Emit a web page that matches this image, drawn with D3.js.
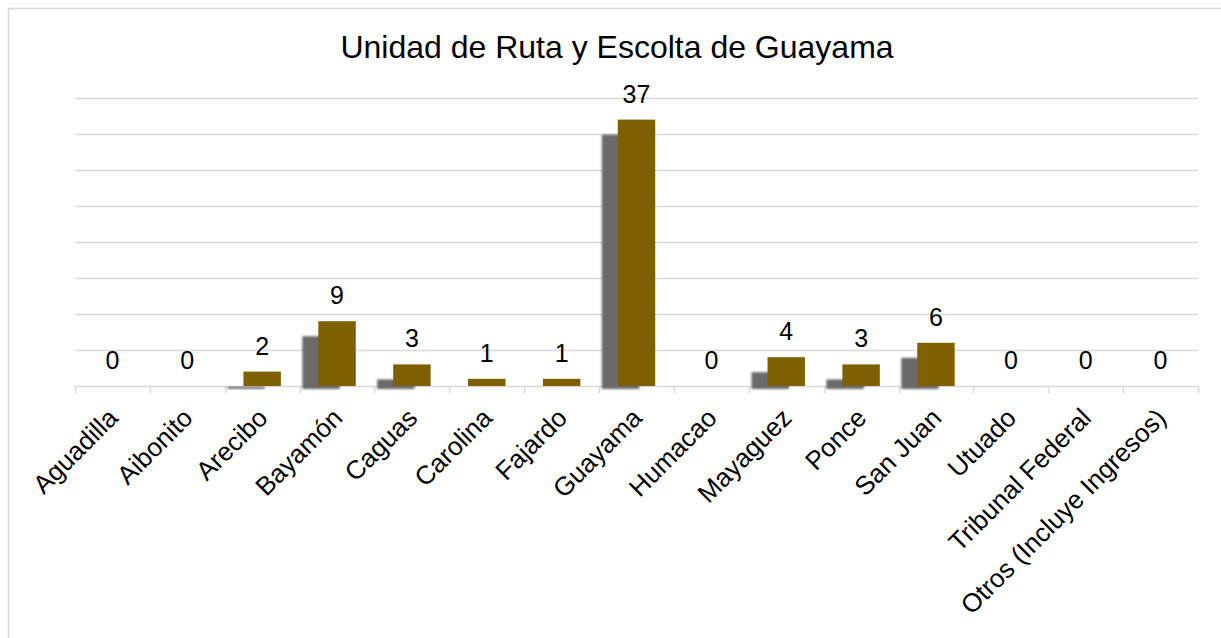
<!DOCTYPE html>
<html>
<head>
<meta charset="utf-8">
<script src="https://cdn.jsdelivr.net/npm/d3@7"></script>
<style>
  body { margin: 0; background: #fff; }
  text { font-family: "Liberation Sans", Arial, sans-serif; fill: #000; }
</style>
</head>
<body>
<div id="chart"></div>
<script>
// chart data
const categories = ["Aguadilla", "Aibonito", "Arecibo", "Bayamón", "Caguas", "Carolina", "Fajardo",
    "Guayama", "Humacao", "Mayaguez", "Ponce", "San Juan", "Utuado", "Tribunal Federal", "Otros (Incluye Ingresos)"];
const values = [0, 0, 2, 9, 3, 1, 1, 37, 0, 4, 3, 6, 0, 0, 0];
const gridTicks = [5, 10, 15, 20, 25, 30, 35, 40];
const title = "Unidad de Ruta y Escolta de Guayama";

const W = 1221, H = 638;
const margin = {top: 98, right: 23, bottom: 252, left: 75};

const svg = d3.select("#chart").append("svg")
    .attr("width", W)
    .attr("height", H);

// shadow blur
svg.append("defs").append("filter")
    .attr("id", "blur")
    .attr("x", "-20%").attr("y", "-20%").attr("width", "140%").attr("height", "140%")
    .append("feGaussianBlur")
    .attr("stdDeviation", 1.3);

// chart border
svg.append("rect")
    .attr("x", 8.5).attr("y", 8.5)
    .attr("width", W + 10).attr("height", H + 10)
    .attr("fill", "none")
    .attr("stroke", "#d9d9d9")
    .attr("stroke-width", 1.5);

const x = d3.scaleBand()
    .domain(categories)
    .range([margin.left, W - margin.right])
    .padding(0);

const y = d3.scaleLinear()
    .domain([0, 40])
    .range([H - margin.bottom, margin.top]);

const y0 = y(0);

// gridlines
svg.append("g")
    .selectAll("line")
    .data(gridTicks)
    .enter()
    .append("line")
    .attr("x1", margin.left)
    .attr("x2", W - margin.right)
    .attr("y1", d => Math.round(y(d)) + 0.5)
    .attr("y2", d => Math.round(y(d)) + 0.5)
    .attr("stroke", "#d9d9d9")
    .attr("stroke-width", 1.5);

// x axis
const xAxis = svg.append("g")
    .attr("transform", "translate(0," + (Math.round(y0) + 0.5) + ")");

xAxis.append("line")
    .attr("x1", margin.left)
    .attr("x2", W - margin.right)
    .attr("stroke", "#d9d9d9")
    .attr("stroke-width", 1.5);

const boundaries = categories.map(c => x(c)).concat([W - margin.right]);
xAxis.selectAll(".tick-mark")
    .data(boundaries)
    .enter()
    .append("line")
    .attr("class", "tick-mark")
    .attr("x1", d => Math.round(d) + 0.5)
    .attr("x2", d => Math.round(d) + 0.5)
    .attr("y1", 0)
    .attr("y2", 7)
    .attr("stroke", "#d9d9d9")
    .attr("stroke-width", 1.5);

xAxis.selectAll(".cat-label")
    .data(categories)
    .enter()
    .append("text")
    .attr("class", "cat-label")
    .attr("text-anchor", "end")
    .attr("font-size", "26px")
    .attr("transform", d => "translate(" + (x(d) + x.bandwidth() / 2 + 7) + ",33) rotate(-45)")
    .text(d => d);

const barW = x.bandwidth() * 0.5;
const data = categories.map((c, i) => ({cat: c, value: values[i]}));

// shadows behind bars
svg.append("g")
    .selectAll("rect")
    .data(data.filter(d => y0 - y(d.value) > 12))
    .enter()
    .append("rect")
    .attr("x", d => x(d.cat) + (x.bandwidth() - barW) / 2 - 16)
    .attr("y", d => y(d.value) + 15)
    .attr("width", barW)
    .attr("height", d => y0 - y(d.value) - 12)
    .attr("fill", "#6a6a6a")
    .attr("filter", "url(#blur)");

// bars
svg.append("g")
    .selectAll("rect")
    .data(data)
    .enter()
    .append("rect")
    .attr("x", d => x(d.cat) + (x.bandwidth() - barW) / 2)
    .attr("y", d => y(d.value))
    .attr("width", barW)
    .attr("height", d => y0 - y(d.value))
    .attr("fill", "#7f6000");

// value labels
svg.append("g")
    .selectAll("text")
    .data(data)
    .enter()
    .append("text")
    .attr("x", d => x(d.cat) + x.bandwidth() / 2)
    .attr("y", d => y(d.value) - 17)
    .attr("text-anchor", "middle")
    .attr("font-size", "25px")
    .text(d => d.value);

// title
svg.append("text")
    .attr("x", 617)
    .attr("y", 58)
    .attr("text-anchor", "middle")
    .attr("font-size", "32px")
    .text(title);
</script>
</body>
</html>
